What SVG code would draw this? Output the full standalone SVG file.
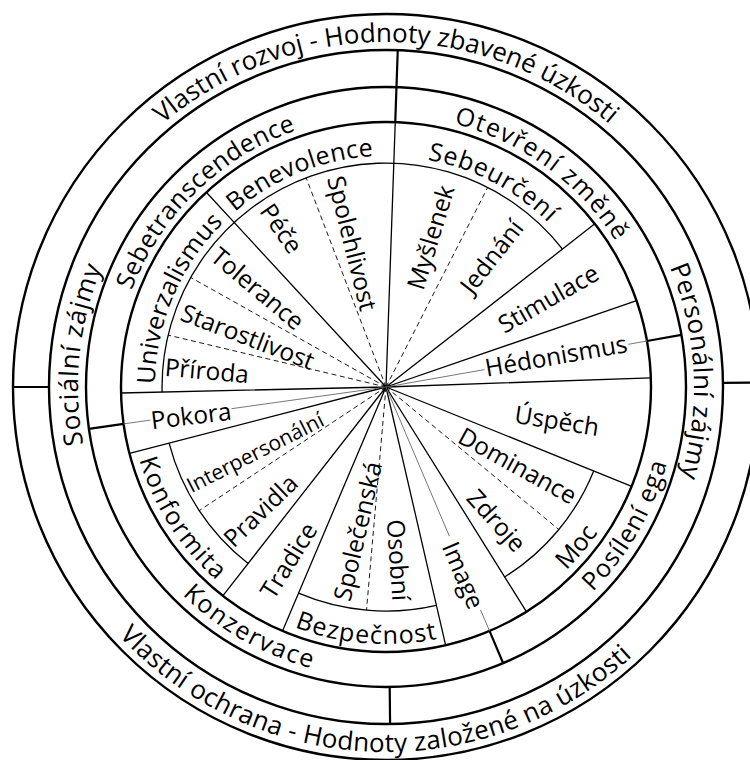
<svg xmlns="http://www.w3.org/2000/svg" width="750" height="760" viewBox="0 0 750 760">
<style>
.ring{fill:none;stroke:#000;stroke-width:2.4}
.div{stroke:#000;stroke-width:2.2;fill:none}
.rad{stroke:#000;stroke-width:1.3;fill:none}
.arc5{fill:none;stroke:#000;stroke-width:1.3}
.dash{stroke:#000;stroke-width:0.9;stroke-dasharray:5 3.5;fill:none}
.gl{stroke:#666;stroke-width:0.9;fill:none}
text{font-family:'Open Sans','Noto Sans','DejaVu Sans',sans-serif;fill:#000}
.lb{font-size:24.5px;text-anchor:middle;dominant-baseline:central}
.c26{font-size:26px}
.c25{font-size:25px}
</style>
<defs>
<path id="pTop" d="M61.8,269 A345,345 0 0 1 710.2,269"/>
<path id="pBot" d="M38.3,498 A365,365 0 0 0 723.7,525.5"/>
<path id="pSoc" d="M251,663.8 A308,308 0 0 1 311.5,88.1"/>
<path id="pPer" d="M476.1,92.5 A308,308 0 0 1 506.3,670.5"/>
<path id="pSbt" d="M138.1,498.9 A272,272 0 0 1 504,141.9"/>
<path id="pOtz" d="M233.9,161.5 A272,272 0 0 1 647.5,462"/>
<path id="pPos" d="M335.5,673.6 A291,291 0 0 0 608.9,199.9"/>
<path id="pKon" d="M99.2,338 A291,291 0 0 0 574.2,608.9"/>
<path id="pBen" d="M155.1,395.1 A231,231 0 0 1 557.7,232.4"/>
<path id="pUni" d="M228.5,556 A231,231 0 0 1 398.1,156.3"/>
<path id="pSeb" d="M229.9,216.7 A231,231 0 0 1 615,417.1"/>
<path id="pMoc" d="M298.1,628.5 A257,257 0 0 0 608.6,258.5"/>
<path id="pKnf" d="M181.8,230.9 A257,257 0 0 0 442.1,637.8"/>
<path id="pBez" d="M138.1,454.8 A257,257 0 0 0 619.5,494.4"/>
</defs>
<rect width="750" height="760" fill="#fff"/>
<g id="connectors">
<circle class="ring" cx="386" cy="387" r="373"/>
<circle class="ring" cx="386" cy="387" r="337"/>
<circle class="ring" cx="386" cy="387" r="300"/>
<circle class="ring" cx="386" cy="387" r="265"/>
<path class="div" d="M397.76,50.2 L395.25,122.16 M647,341 L681.4,334.9 M489.5,630.9 L503.2,663.2 M123.6,423.9 L88.9,428.8 M389.7,687 L390.1,724 M49,387 L13,387 M723,382.9 L759,382.4"/>
<path class="arc5" d="M162.1,392.1 A224,224 0 0 1 562.5,249.1 M593.7,470.9 A224,224 0 0 1 504.7,577 M436.4,605.3 A224,224 0 0 1 298.5,593.2 M248.1,563.5 A224,224 0 0 1 169.1,443.1"/>
<path class="rad" d="M386,387 L395.25,122.16 M386,387 L594.8,223.8 M386,387 L636.6,300.7 M386,387 L650.8,377.8 M386,387 L631.7,486.3 M386,387 L526.4,611.7 M386,387 L445.6,645.2 M386,387 L282.5,630.9 M386,387 L222.8,595.8 M386,387 L129.5,453.4 M386,387 L121.1,393 M386,387 L206.3,192.3"/>
<path class="dash" d="M386,387 L487.7,187.4 M386,387 L558.8,529.5 M386,387 L366.5,610.1 M386,387 L199.2,510.6 M386,387 L168.1,335.1 M386,387 L190.6,277.4 M386,387 L306.1,177.7"/>
<path class="gl" d="M386,387 L484.5,369.6 M628.3,344.3 L647,341 M386,387 L449.3,536.1 M480.5,609.8 L489.5,630.9 M386,387 L231.5,408.7 M150.3,420.1 L123.6,423.9"/>
</g>
<g id="outer-top"><text class="c26"><textPath href="#pTop" startOffset="50%" text-anchor="middle" textLength="486">Vlastní rozvoj - Hodnoty zbavené úzkosti</textPath></text></g>
<g id="outer-bottom"><text class="c26"><textPath href="#pBot" startOffset="50%" text-anchor="middle" textLength="570">Vlastní ochrana - Hodnoty založené na úzkosti</textPath></text></g>
<g id="socialni"><text class="c26"><textPath href="#pSoc" startOffset="50%" text-anchor="middle" textLength="180">Sociální zájmy</textPath></text></g>
<g id="personalni"><text class="c26"><textPath href="#pPer" startOffset="50%" text-anchor="middle" textLength="214">Personální zájmy</textPath></text></g>
<g id="sebetranscendence"><text class="c25"><textPath href="#pSbt" startOffset="50%" text-anchor="middle" textLength="237">Sebetranscendence</textPath></text></g>
<g id="otevreni"><text class="c25"><textPath href="#pOtz" startOffset="50%" text-anchor="middle" textLength="205">Otevření změně</textPath></text></g>
<g id="posileni"><text class="c25"><textPath href="#pPos" startOffset="50%" text-anchor="middle" textLength="150">Posílení ega</textPath></text></g>
<g id="konzervace"><text class="c25"><textPath href="#pKon" startOffset="50%" text-anchor="middle" textLength="150">Konzervace</textPath></text></g>
<g id="benevolence"><text class="c25"><textPath href="#pBen" startOffset="50%" text-anchor="middle" textLength="152">Benevolence</textPath></text></g>
<g id="univerzalismus"><text class="c25"><textPath href="#pUni" startOffset="50%" text-anchor="middle" textLength="180">Univerzalismus</textPath></text></g>
<g id="sebeurceni"><text class="c25"><textPath href="#pSeb" startOffset="50%" text-anchor="middle" textLength="138">Sebeurčení</textPath></text></g>
<g id="moc"><text class="c25"><textPath href="#pMoc" startOffset="50%" text-anchor="middle">Moc</textPath></text></g>
<g id="konformita"><text class="c25"><textPath href="#pKnf" startOffset="50%" text-anchor="middle" textLength="145">Konformita</textPath></text></g>
<g id="bezpecnost"><text class="c25"><textPath href="#pBez" startOffset="50%" text-anchor="middle" textLength="145">Bezpečnost</textPath></text></g>
<g id="spolehlivost"><text class="lb" transform="translate(353,243) rotate(76)">Spolehlivost</text></g>
<g id="pece"><text class="lb" transform="translate(282,228) rotate(55)">Péče</text></g>
<g id="myslenek"><text class="lb" transform="translate(430,237) rotate(-73)">Myšlenek</text></g>
<g id="jednani"><text class="lb" transform="translate(491,256) rotate(-52)">Jednání</text></g>
<g id="stimulace"><text class="lb" transform="translate(548,298) rotate(-30)">Stimulace</text></g>
<g id="hedonismus"><text class="lb" transform="translate(556,355) rotate(-10)">Hédonismus</text></g>
<g id="uspech"><text class="lb" transform="translate(557,420) rotate(9)">Úspěch</text></g>
<g id="dominance"><text class="lb" transform="translate(518,465) rotate(29)">Dominance</text></g>
<g id="zdroje"><text class="lb" transform="translate(497,520) rotate(48)">Zdroje</text></g>
<g id="image"><text class="lb" transform="translate(464,575) rotate(67)">Image</text></g>
<g id="osobni"><text class="lb" transform="translate(399,560) rotate(86)">Osobní</text></g>
<g id="spolecenska"><text class="lb" transform="translate(357,531) rotate(-77)">Společenská</text></g>
<g id="tradice"><text class="lb" transform="translate(288,560) rotate(-58)">Tradice</text></g>
<g id="pravidla"><text class="lb" transform="translate(260,510) rotate(-44)">Pravidla</text></g>
<g id="interpersonalni"><text class="lb" style="font-size:21px" transform="translate(255,452) rotate(-27)">Interpersonální</text></g>
<g id="pokora"><text class="lb" transform="translate(191,415) rotate(-7)">Pokora</text></g>
<g id="priroda"><text class="lb" transform="translate(207,370) rotate(5)">Příroda</text></g>
<g id="starostlivost"><text class="lb" transform="translate(248,336) rotate(21)">Starostlivost</text></g>
<g id="tolerance"><text class="lb" transform="translate(258,288) rotate(40)">Tolerance</text></g>
</svg>
